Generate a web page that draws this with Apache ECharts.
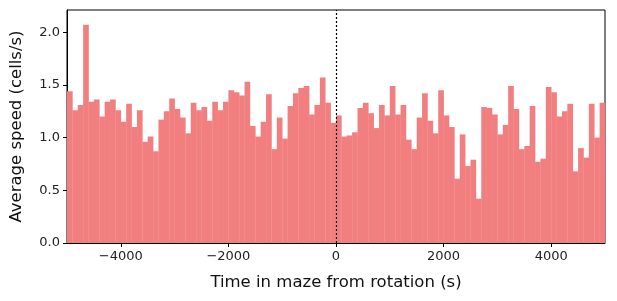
<!DOCTYPE html>
<html>
<head>
<meta charset="utf-8">
<script src="https://cdn.jsdelivr.net/npm/echarts@6/dist/echarts.min.js"></script>
<style>
  html, body { margin: 0; padding: 0; background: #fff; }
  #chart { width: 617px; height: 301px; }
</style>
</head>
<body>
<div id="chart"></div>
<script>
// histogram bins: start time and width (s)
var binStart = -5000
var binWidth = 100
// average speed per bin (cells/s), left to right
var speeds = [
  1.44, 1.26, 1.31, 2.07, 1.34, 1.36, 1.20, 1.34, 1.36, 1.26,
  1.15, 1.32, 1.10, 1.26, 0.96, 1.01, 0.87, 1.17, 1.25, 1.37,
  1.27, 1.19, 1.04, 1.33, 1.26, 1.29, 1.16, 1.34, 1.26, 1.34,
  1.45, 1.43, 1.40, 1.53, 1.11, 1.01, 1.15, 1.41, 0.89, 1.19,
  0.99, 1.30, 1.42, 1.47, 1.49, 1.22, 1.31, 1.57, 1.33, 1.14,
  1.21, 1.01, 1.02, 1.05, 1.28, 1.33, 1.23, 1.09, 1.31, 1.21,
  1.49, 1.22, 1.31, 0.98, 0.89, 1.19, 1.42, 1.16, 1.04, 1.45,
  1.21, 1.10, 0.61, 1.03, 0.73, 0.79, 0.42, 1.29, 1.28, 1.22,
  1.03, 1.12, 1.49, 1.27, 0.89, 0.92, 1.30, 0.77, 0.80, 1.48,
  1.43, 1.20, 1.25, 1.32, 0.68, 0.90, 0.81, 1.32, 1.00, 1.33
]
var xTicks = [-4000, -2000, 0, 2000, 4000]
var rotationTime = 0

var barData = speeds.map(function (v, i) {
  var s = binStart + i * binWidth
  return [s, s + binWidth, v]
})

var fmtMinus = function (v) { return String(v).replace('-', '\u2212') }
var font = 'DejaVu Sans'

var chart = echarts.init(document.getElementById('chart'), null, { renderer: 'canvas' })
chart.setOption({
  animation: false,
  backgroundColor: '#fff',
  grid: {
    left: 67, right: 12, top: 10, bottom: 58,
    outerBoundsMode: 'none',
    containLabel: false,
    show: true, borderColor: '#000', borderWidth: 1
  },
  xAxis: {
    type: 'value',
    min: -5000,
    max: 5000,
    name: 'Time in maze from rotation (s)',
    nameLocation: 'middle',
    nameGap: 31,
    nameTextStyle: { fontFamily: font, fontSize: 16.5, color: '#111' },
    splitLine: { show: false },
    axisLine: { onZero: false, lineStyle: { color: '#000' } },
    axisTick: { length: 4, lineStyle: { color: '#000' }, customValues: xTicks },
    axisLabel: {
      fontFamily: font, fontSize: 13, color: '#222', margin: 7,
      customValues: xTicks, formatter: fmtMinus
    }
  },
  yAxis: {
    type: 'value',
    min: 0,
    max: 2.21,
    interval: 0.5,
    name: 'Average speed (cells/s)',
    nameLocation: 'middle',
    nameGap: 42,
    nameTextStyle: { fontFamily: font, fontSize: 16.5, color: '#111' },
    splitLine: { show: false },
    axisLine: { show: true, onZero: false, lineStyle: { color: '#000' } },
    axisTick: { show: true, length: 4, lineStyle: { color: '#000' } },
    axisLabel: {
      fontFamily: font, fontSize: 13, color: '#222', margin: 7,
      showMaxLabel: false,
      formatter: function (v) { return v.toFixed(1) }
    }
  },
  series: [{
    type: 'custom',
    data: barData,
    renderItem: function (params, api) {
      var p0 = api.coord([api.value(0), api.value(2)])
      var p1 = api.coord([api.value(1), 0])
      return {
        type: 'rect',
        shape: { x: p0[0], y: p0[1], width: p1[0] - p0[0] + 0.3, height: p1[1] - p0[1] },
        style: { fill: '#f27f7f' }
      }
    },
    markLine: {
      silent: true,
      symbol: 'none',
      label: { show: false },
      lineStyle: { color: '#000', type: [2, 2], width: 1.2 },
      data: [{ xAxis: rotationTime }]
    },
    z: 1
  }]
})
</script>
</body>
</html>
